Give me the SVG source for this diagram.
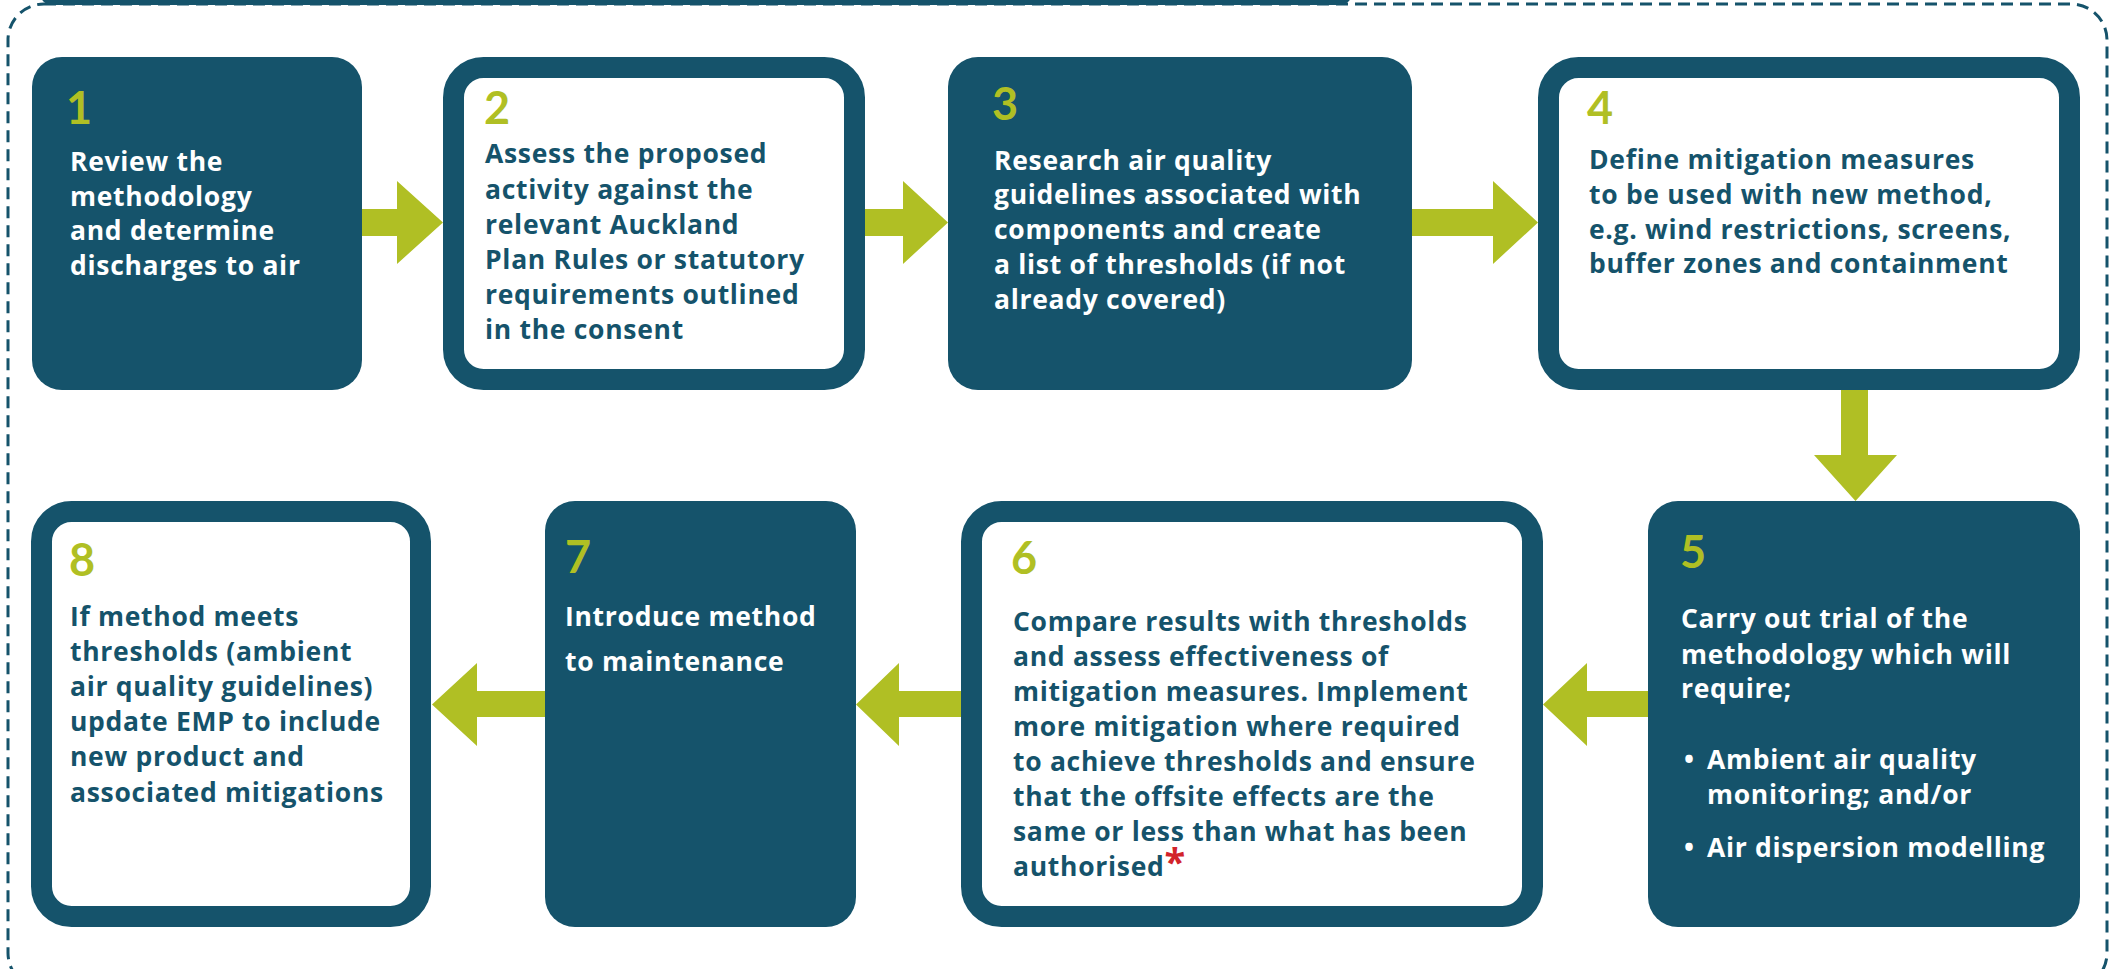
<svg xmlns="http://www.w3.org/2000/svg" width="2123" height="969" viewBox="0 0 2123 969">
<style>
.dark{fill:#15536b}
.out{fill:#ffffff;stroke:#15536b;stroke-width:21}
.arr{fill:#b0bf24}
.num{font-family:Lato,"Liberation Sans",sans-serif;font-weight:700;font-size:45px;fill:#b0bf24}
.tw{font-family:"Open Sans","Liberation Sans",sans-serif;font-weight:700;font-size:26.5px;letter-spacing:0.7px;fill:#ffffff}
.td{font-family:"Open Sans","Liberation Sans",sans-serif;font-weight:700;font-size:26.5px;letter-spacing:0.7px;fill:#15536b}
.star{fill:#d2232a}
</style>
<rect width="2123" height="969" fill="#ffffff"/>
<g id="frame">
<rect x="8" y="4" width="2099" height="985" rx="36" fill="none" stroke="#15536b" stroke-width="3" stroke-dasharray="12 7"/>
<rect x="40" y="-30" width="1312" height="35" rx="12" class="dark"/>
</g>
<g id="connectors">
<polygon class="arr" points="361,209 397,209 397,181 443,222.5 397,264 397,236 361,236"/>
<polygon class="arr" points="865,209 903,209 903,181 948,222.5 903,264 903,236 865,236"/>
<polygon class="arr" points="1412,209 1493,209 1493,181 1538,222.5 1493,264 1493,236 1412,236"/>
<polygon class="arr" points="1841,390 1868,390 1868,455 1897,455 1855.5,501 1814,455 1841,455"/>
<polygon class="arr" points="1648,691 1587,691 1587,663 1543,704.5 1587,746 1587,717 1648,717"/>
<polygon class="arr" points="961,691 899,691 899,663 856,704.5 899,746 899,717 961,717"/>
<polygon class="arr" points="545,691 477,691 477,663 432,704.5 477,746 477,717 545,717"/>
</g>
<g id="step1">
<rect x="32" y="57" width="330" height="333" rx="30" class="dark"/>
<text x="66" y="124" class="num">1</text>
<text class="tw"><tspan x="70" y="171">Review the</tspan><tspan x="70" y="206">methodology</tspan><tspan x="70" y="240">and determine</tspan><tspan x="70" y="275">discharges to air</tspan></text>
</g>
<g id="step2">
<rect x="453.5" y="67.5" width="401" height="312" rx="30" class="out"/>
<text x="484" y="124" class="num">2</text>
<text class="td"><tspan x="485" y="163">Assess the proposed</tspan><tspan x="485" y="199">activity against the</tspan><tspan x="485" y="234">relevant Auckland</tspan><tspan x="485" y="269">Plan Rules or statutory</tspan><tspan x="485" y="304">requirements outlined</tspan><tspan x="485" y="339">in the consent</tspan></text>
</g>
<g id="step3">
<rect x="948" y="57" width="464" height="333" rx="30" class="dark"/>
<text x="992" y="120" class="num">3</text>
<text class="tw"><tspan x="994" y="170">Research air quality</tspan><tspan x="994" y="204">guidelines associated with</tspan><tspan x="994" y="239">components and create</tspan><tspan x="994" y="274">a list of thresholds (if not</tspan><tspan x="994" y="309">already covered)</tspan></text>
</g>
<g id="step4">
<rect x="1548.5" y="67.5" width="521" height="312" rx="30" class="out"/>
<text x="1587" y="124" class="num">4</text>
<text class="td"><tspan x="1589" y="169">Define mitigation measures</tspan><tspan x="1589" y="204">to be used with new method,</tspan><tspan x="1589" y="239">e.g. wind restrictions, screens,</tspan><tspan x="1589" y="273">buffer zones and containment</tspan></text>
</g>
<g id="step5">
<rect x="1648" y="501" width="432" height="426" rx="30" class="dark"/>
<text x="1680" y="568" class="num">5</text>
<text class="tw"><tspan x="1681" y="628">Carry out trial of the</tspan><tspan x="1681" y="664">methodology which will</tspan><tspan x="1681" y="698">require;</tspan></text>
<text class="tw"><tspan x="1684" y="769">•</tspan><tspan x="1707" y="769">Ambient air quality</tspan><tspan x="1707" y="804">monitoring; and/or</tspan><tspan x="1684" y="857">•</tspan><tspan x="1707" y="857">Air dispersion modelling</tspan></text>
</g>
<g id="step6">
<rect x="971.5" y="511.5" width="561" height="405" rx="30" class="out"/>
<text x="1011" y="574" class="num">6</text>
<text class="td"><tspan x="1013" y="631">Compare results with thresholds</tspan><tspan x="1013" y="666">and assess effectiveness of</tspan><tspan x="1013" y="701">mitigation measures. Implement</tspan><tspan x="1013" y="736">more mitigation where required</tspan><tspan x="1013" y="771">to achieve thresholds and ensure</tspan><tspan x="1013" y="806">that the offsite effects are the</tspan><tspan x="1013" y="841">same or less than what has been</tspan><tspan x="1013" y="876">authorised<tspan class="star" font-size="38">*</tspan></tspan></text>
</g>
<g id="step7">
<rect x="545" y="501" width="311" height="426" rx="30" class="dark"/>
<text x="565" y="573" class="num">7</text>
<text class="tw"><tspan x="565" y="626">Introduce method</tspan><tspan x="565" y="671">to maintenance</tspan></text>
</g>
<g id="step8">
<rect x="41.5" y="511.5" width="379" height="405" rx="30" class="out"/>
<text x="69" y="576" class="num">8</text>
<text class="td"><tspan x="70" y="626">If method meets</tspan><tspan x="70" y="661">thresholds (ambient</tspan><tspan x="70" y="696">air quality guidelines)</tspan><tspan x="70" y="731">update EMP to include</tspan><tspan x="70" y="766">new product and</tspan><tspan x="70" y="802">associated mitigations</tspan></text>
</g>
</svg>
